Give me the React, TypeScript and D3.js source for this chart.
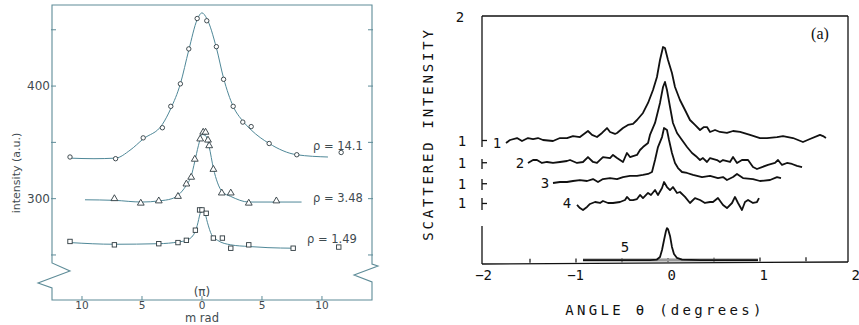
import React from 'react';
import * as d3 from 'd3';

const W = 859;
const H = 325;

// ---------------- Left panel data (x: m rad, y: intensity a.u.) ----------------
const leftXTicks = [-10, -5, 0, 5, 10];
const leftYTicks = [250, 300, 350, 400, 450];
const leftYLabels = [300, 400];

const rho141Pts: [number, number][] = [
  [-11, 337], [-7.2, 335.5], [-4.9, 354], [-3.3, 363], [-2.6, 382], [-1.8, 402], [-1.1, 433],
  [-0.4, 460], [0.4, 458], [1.2, 435], [1.8, 406], [2.6, 382], [3.4, 368], [4.1, 364],
  [5.6, 349], [7.9, 339], [11.6, 341],
];
const rho141Fit: [number, number][] = [
  [-11, 336], [-9, 335.5], [-7.2, 336], [-6, 343], [-4.9, 353], [-3.3, 366], [-2.6, 380],
  [-1.8, 402], [-1.1, 432], [-0.4, 459], [0, 465], [0.4, 460], [1.2, 434], [1.8, 407],
  [2.6, 382], [3.4, 369], [4.1, 361], [5.6, 349], [7.9, 339], [10.5, 337],
];

const rho348Pts: [number, number][] = [
  [-7.3, 300], [-5.1, 296], [-3.6, 298], [-2.0, 302], [-1.3, 313], [-0.9, 319], [-0.6, 335],
  [-0.15, 353], [0.1, 359], [0.3, 359], [0.5, 352], [0.6, 347], [0.95, 326], [1.65, 305],
  [2.4, 305], [3.9, 296], [6.2, 298],
];
const rho348Fit: [number, number][] = [
  [-9.75, 299], [-7.3, 298.5], [-5, 297], [-3.6, 298], [-2.5, 300], [-2, 303], [-1.3, 312],
  [-0.9, 320], [-0.6, 333], [-0.3, 347], [0, 357], [0.3, 356], [0.6, 346], [0.95, 327],
  [1.3, 314], [1.7, 306], [2.4, 302], [3.9, 297], [6.2, 297], [8.3, 297],
];

const rho149Pts: [number, number][] = [
  [-11, 262], [-7.3, 259], [-3.6, 260], [-2.0, 261], [-1.3, 263], [-0.55, 272], [-0.2, 290],
  [0, 290], [0.35, 287], [0.95, 265], [1.7, 265], [2.4, 256], [3.9, 259], [7.6, 256],
  [11.4, 257],
];
const rho149Fit: [number, number][] = [
  [-11, 261], [-7.3, 259.5], [-3.6, 260], [-2, 261.5], [-1.3, 263], [-0.7, 268], [-0.4, 276],
  [-0.15, 287], [0, 291], [0.2, 289], [0.45, 279], [0.8, 268], [1.3, 263], [2.4, 259],
  [3.9, 257.5], [5.5, 256.5], [7.6, 256],
];

const rhoLabels = ['ρ = 14.1', 'ρ = 3.48', 'ρ = 1.49'];
const rhoLabelX = [9.25, 9.25, 8.75];
const rhoLabelY = [347, 301, 264];

// ---------------- Right panel data (x: angle θ in degrees, y: scattered intensity) ----------------
const rightXLabels = [-2, -1, 0, 1, 2];
const rightXTicks = [-1.5, -1, -0.5, 0, 0.5, 1, 1.5];
const rightYTopLabel = 2;
const curveOffsets = [1.0, 0.82, 0.65, 0.49];
const curveNames = ['1', '2', '3', '4', '5'];
const curveLabelTheta = [-1.859, -1.609, -1.337, -1.098, -0.467];
const curveLabelValue = [0.98, 0.818, 0.656, 0.494, 0.138];

const trace1: [number, number][] = [
  [-1.761, 0.98], [-1.717, 1.004], [-1.641, 1.02], [-1.587, 0.996], [-1.522, 1.02], [-1.467, 1.012],
  [-1.413, 1.02], [-1.359, 1.004], [-1.25, 0.996], [-1.174, 1.02], [-1.098, 1.02], [-1.033, 1.036],
  [-0.957, 1.028], [-0.87, 1.077], [-0.826, 1.045], [-0.772, 1.028], [-0.717, 1.061], [-0.663, 1.101],
  [-0.63, 1.069], [-0.576, 1.053], [-0.554, 1.061], [-0.489, 1.101], [-0.435, 1.126], [-0.38, 1.134],
  [-0.337, 1.166], [-0.272, 1.223], [-0.217, 1.304], [-0.163, 1.409], [-0.12, 1.514], [-0.087, 1.652],
  [-0.054, 1.757], [-0.033, 1.749], [0.0, 1.652], [0.043, 1.547], [0.076, 1.433], [0.13, 1.328],
  [0.185, 1.247], [0.239, 1.166], [0.293, 1.126], [0.348, 1.085], [0.391, 1.109], [0.424, 1.109],
  [0.457, 1.069], [0.511, 1.085], [0.565, 1.069], [0.641, 1.061], [0.707, 1.077], [0.783, 1.069],
  [0.891, 1.045], [1.0, 1.02], [1.076, 1.02], [1.185, 1.028], [1.25, 1.036], [1.359, 1.02],
  [1.467, 0.988], [1.543, 1.012], [1.652, 1.045], [1.685, 1.036], [1.717, 1.02],
];
const trace2: [number, number][] = [
  [-1.522, 0.818], [-1.467, 0.842], [-1.424, 0.842], [-1.37, 0.818], [-1.315, 0.826], [-1.25, 0.818],
  [-1.174, 0.826], [-1.098, 0.834], [-1.065, 0.842], [-0.989, 0.818], [-0.924, 0.826], [-0.87, 0.866],
  [-0.815, 0.826], [-0.772, 0.818], [-0.707, 0.866], [-0.63, 0.858], [-0.598, 0.883], [-0.554, 0.858],
  [-0.489, 0.826], [-0.446, 0.899], [-0.413, 0.866], [-0.38, 0.874], [-0.337, 0.883], [-0.304, 0.923],
  [-0.272, 0.947], [-0.217, 0.98], [-0.196, 1.045], [-0.141, 1.142], [-0.087, 1.304], [-0.054, 1.433],
  [-0.033, 1.474], [-0.011, 1.409], [0.022, 1.271], [0.054, 1.142], [0.098, 1.061], [0.152, 1.004],
  [0.207, 0.947], [0.261, 0.899], [0.315, 0.866], [0.348, 0.842], [0.38, 0.858], [0.424, 0.826],
  [0.457, 0.858], [0.533, 0.842], [0.565, 0.826], [0.598, 0.842], [0.674, 0.826], [0.707, 0.866],
  [0.75, 0.818], [0.804, 0.842], [0.87, 0.842], [0.924, 0.785], [0.967, 0.769], [1.022, 0.785],
  [1.087, 0.802], [1.163, 0.818], [1.196, 0.842], [1.239, 0.802], [1.293, 0.818], [1.348, 0.81],
  [1.402, 0.794], [1.457, 0.785],
];
const trace3: [number, number][] = [
  [-1.25, 0.656], [-1.174, 0.664], [-1.098, 0.664], [-1.033, 0.672], [-0.957, 0.68], [-0.88, 0.672],
  [-0.815, 0.688], [-0.761, 0.664], [-0.707, 0.688], [-0.63, 0.696], [-0.554, 0.688], [-0.489, 0.704],
  [-0.413, 0.713], [-0.337, 0.713], [-0.272, 0.721], [-0.217, 0.729], [-0.174, 0.745], [-0.141, 0.842],
  [-0.109, 0.947], [-0.065, 1.028], [-0.043, 1.101], [-0.011, 1.085], [0.011, 1.004], [0.043, 0.899],
  [0.076, 0.818], [0.109, 0.777], [0.152, 0.745], [0.207, 0.737], [0.272, 0.721], [0.37, 0.704],
  [0.457, 0.713], [0.543, 0.696], [0.598, 0.704], [0.641, 0.68], [0.707, 0.704], [0.75, 0.729],
  [0.815, 0.696], [0.924, 0.688], [1.0, 0.672], [1.109, 0.68], [1.185, 0.704], [1.228, 0.696],
];
const trace4: [number, number][] = [
  [-0.989, 0.478], [-0.957, 0.453], [-0.924, 0.437], [-0.88, 0.462], [-0.848, 0.486], [-0.793, 0.502],
  [-0.739, 0.494], [-0.707, 0.51], [-0.652, 0.494], [-0.598, 0.494], [-0.522, 0.502], [-0.467, 0.518],
  [-0.446, 0.543], [-0.413, 0.518], [-0.38, 0.518], [-0.337, 0.526], [-0.304, 0.559], [-0.272, 0.534],
  [-0.217, 0.575], [-0.185, 0.559], [-0.141, 0.599], [-0.109, 0.559], [-0.065, 0.615], [-0.043, 0.664],
  [-0.011, 0.623], [0.022, 0.599], [0.054, 0.623], [0.098, 0.575], [0.13, 0.583], [0.185, 0.543],
  [0.239, 0.494], [0.293, 0.534], [0.348, 0.518], [0.402, 0.494], [0.457, 0.502], [0.489, 0.502],
  [0.543, 0.534], [0.598, 0.478], [0.641, 0.453], [0.696, 0.494], [0.728, 0.543], [0.761, 0.494],
  [0.804, 0.437], [0.837, 0.502], [0.87, 0.518], [0.924, 0.494], [0.967, 0.502], [0.989, 0.534],
];
const trace5: [number, number][] = [
  [-0.924, 0.032], [-0.522, 0.032], [-0.196, 0.032], [-0.12, 0.036], [-0.087, 0.057], [-0.065, 0.113],
  [-0.043, 0.194], [-0.022, 0.267], [-0.011, 0.291], [0.0, 0.283], [0.022, 0.227], [0.043, 0.138],
  [0.065, 0.081], [0.098, 0.049], [0.152, 0.036], [0.348, 0.032], [0.978, 0.032],
];
const band5 = { from: -0.924, to: 0.978, low: 0.02, high: 0.045 };

// ---------------- Scales ----------------
const xL = d3.scaleLinear().domain([-12.5, 14.17]).range([52, 372]);
const yL = d3.scaleLinear().domain([210, 472]).range([300, 5]);
const xR = d3.scaleLinear().domain([-2, 2]).range([484, 852]);
const yR = d3.scaleLinear().domain([0, 2]).range([264, 17]);

const TEAL = '#4f8898';
const FRAME_L = '#5e8c98';
const TXT_L = '#3f4b50';
const MARK = '#2e3a3f';
const MONO = "'DejaVu Sans Mono', monospace";

export default function App() {
  const fitLine = d3
    .line<[number, number]>()
    .x((d) => xL(d[0]))
    .y((d) => yL(d[1]))
    .curve(d3.curveMonotoneX);
  const traceLine = d3
    .line<[number, number]>()
    .x((d) => xR(d[0]))
    .y((d) => yR(d[1]));

  const [lx0, lx1] = xL.range();
  const ly0 = yL.range()[1];
  const ly1 = yL.range()[0];

  // left break marks (decorative zig-zags on the frame)
  const leftFrame = `M${lx0},${ly1} L${lx0},288 L${lx0 - 14},283 L${lx0 + 18},271 L${lx0},263 L${lx0},${ly0} L${lx1},${ly0} L${lx1},264 L${lx1 + 6},266 L${lx1 - 18},275 L${lx1},282 L${lx1},${ly1} Z`;

  const tri = d3.symbol().type(d3.symbolTriangle).size(20)() as string;

  const rx0 = 482;
  const rx1 = 848;
  const ry0 = 16;
  const ry1 = 264;

  const leftAxisSegs: [number, number][] = [
    [ry0, 147],
    [159, 169],
    [179, 190],
    [198, 210],
    [226, ry1],
  ];

  return (
    <svg
      width={W}
      height={H}
      viewBox={`0 0 ${W} ${H}`}
      style={{ position: 'absolute', left: 0, top: 0, background: '#fff' }}
    >
      <rect x={0} y={0} width={W} height={H} fill="#fff" />

      {/* ===================== LEFT PANEL ===================== */}
      <path d={leftFrame} fill="none" stroke={FRAME_L} strokeWidth={1.1} />
      {leftYTicks.map((t) => (
        <g key={'ly' + t}>
          <line x1={lx0 - 1} x2={lx0 + 4} y1={yL(t)} y2={yL(t)} stroke={FRAME_L} strokeWidth={1} />
          <line x1={lx1 - 4} x2={lx1 + 1} y1={yL(t)} y2={yL(t)} stroke={FRAME_L} strokeWidth={1} />
        </g>
      ))}
      {leftYLabels.map((t) => (
        <text
          key={'lyl' + t}
          x={lx0 - 2}
          y={yL(t)}
          fontFamily="'DejaVu Sans', sans-serif"
          fontSize={12}
          fill={TXT_L}
          textAnchor="end"
          dominantBaseline="central"
        >
          {t}
        </text>
      ))}
      {leftXTicks.map((t) => (
        <g key={'lx' + t}>
          <line x1={xL(t)} x2={xL(t)} y1={ly1} y2={ly1 - 4} stroke={FRAME_L} strokeWidth={1} />
          <text
            x={xL(t)}
            y={ly1 + 9}
            fontFamily="'DejaVu Sans', sans-serif"
            fontSize={10.5}
            fill={TXT_L}
            textAnchor="middle"
          >
            {Math.abs(t)}
          </text>
        </g>
      ))}
      <text x={xL(0)} y={296} fontFamily="'DejaVu Sans', sans-serif" fontSize={12} fill={TXT_L} textAnchor="middle">
        (π)
      </text>
      <text x={xL(0)} y={322} fontFamily="'DejaVu Sans', sans-serif" fontSize={11.5} fill={TXT_L} textAnchor="middle">
        m rad
      </text>
      <text
        transform={`translate(20,173) rotate(-90)`}
        fontFamily="'DejaVu Sans', sans-serif"
        fontSize={11}
        fill={TXT_L}
        textAnchor="middle"
      >
        intensity (a.u.)
      </text>

      {[rho141Fit, rho348Fit, rho149Fit].map((f, i) => (
        <path key={'fit' + i} d={fitLine(f) as string} fill="none" stroke={TEAL} strokeWidth={1} />
      ))}
      {rho141Pts.map((p, i) => (
        <circle key={'c' + i} cx={xL(p[0])} cy={yL(p[1])} r={2.2} fill="#fff" stroke={MARK} strokeWidth={0.9} />
      ))}
      {rho348Pts.map((p, i) => (
        <path
          key={'t' + i}
          d={tri}
          transform={`translate(${xL(p[0])},${yL(p[1])})`}
          fill="#fff"
          stroke={MARK}
          strokeWidth={0.9}
        />
      ))}
      {rho149Pts.map((p, i) => (
        <rect
          key={'s' + i}
          x={xL(p[0]) - 2.2}
          y={yL(p[1]) - 2.2}
          width={4.4}
          height={4.4}
          fill="#fff"
          stroke={MARK}
          strokeWidth={0.9}
        />
      ))}
      {rhoLabels.map((l, i) => (
        <text
          key={'rl' + i}
          x={xL(rhoLabelX[i])}
          y={yL(rhoLabelY[i])}
          fontFamily="'DejaVu Sans', sans-serif"
          fontSize={11.5}
          fill={TXT_L}
          dominantBaseline="central"
        >
          {l}
        </text>
      ))}

      {/* ===================== RIGHT PANEL ===================== */}
      <line x1={rx0} x2={rx1} y1={ry0} y2={ry0} stroke="#111" strokeWidth={1.3} />
      <line x1={rx1} x2={rx1} y1={ry0} y2={ry1 - 2} stroke="#111" strokeWidth={1.3} />
      <line x1={rx0} x2={rx1} y1={ry1} y2={ry1 - 2} stroke="#111" strokeWidth={1.3} />
      {leftAxisSegs.map((s, i) => (
        <line key={'las' + i} x1={rx0} x2={rx0} y1={s[0]} y2={s[1]} stroke="#111" strokeWidth={1.3} />
      ))}
      {curveOffsets.map((o, i) => (
        <g key={'off' + i}>
          <line x1={rx0} x2={rx0 + 5} y1={yR(o)} y2={yR(o)} stroke="#111" strokeWidth={1.3} />
          <text
            x={462}
            y={yR(o)}
            fontFamily={MONO}
            fontSize={14}
            fill="#111"
            textAnchor="middle"
            dominantBaseline="central"
          >
            1
          </text>
        </g>
      ))}
      <text
        x={460}
        y={yR(rightYTopLabel)}
        fontFamily={MONO}
        fontSize={14}
        fill="#111"
        textAnchor="middle"
        dominantBaseline="central"
      >
        {rightYTopLabel}
      </text>
      {rightXTicks.map((t) => (
        <line
          key={'rxt' + t}
          x1={xR(t)}
          x2={xR(t)}
          y1={ry1 - 1 - ((xR(t) - rx0) / (rx1 - rx0)) * 2}
          y2={ry1 - 5 - ((xR(t) - rx0) / (rx1 - rx0)) * 2}
          stroke="#111"
          strokeWidth={1.2}
        />
      ))}
      {rightXLabels.map((t) => (
        <text
          key={'rxl' + t}
          x={xR(t) + 8}
          y={280}
          fontFamily={MONO}
          fontSize={14}
          fill="#111"
          textAnchor="end"
        >
          {t < 0 ? '−' + Math.abs(t) : String(t)}
        </text>
      ))}
      <text
        x={665}
        y={315}
        fontFamily={MONO}
        fontSize={14}
        letterSpacing={3.3}
        fill="#111"
        textAnchor="middle"
      >
        ANGLE θ (degrees)
      </text>
      <text
        transform={`translate(433,134) rotate(-90)`}
        fontFamily={MONO}
        fontSize={14}
        letterSpacing={2.8}
        fill="#111"
        textAnchor="middle"
      >
        SCATTERED INTENSITY
      </text>
      <text x={820} y={39} fontFamily="'Liberation Serif', serif" fontSize={16} fill="#111" textAnchor="middle">
        (a)
      </text>

      <rect
        x={xR(band5.from)}
        y={yR(band5.high)}
        width={xR(band5.to) - xR(band5.from)}
        height={yR(band5.low) - yR(band5.high)}
        fill="#9a9a9a"
      />
      {[trace1, trace2, trace3, trace4, trace5].map((t, i) => (
        <path
          key={'tr' + i}
          d={traceLine(t) as string}
          fill="none"
          stroke="#111"
          strokeWidth={1.8}
          strokeLinejoin="round"
        />
      ))}
      {curveNames.map((n, i) => (
        <text
          key={'cn' + i}
          x={xR(curveLabelTheta[i])}
          y={yR(curveLabelValue[i])}
          fontFamily={MONO}
          fontSize={14}
          fill="#111"
          textAnchor="middle"
          dominantBaseline="central"
        >
          {n}
        </text>
      ))}
    </svg>
  );
}
